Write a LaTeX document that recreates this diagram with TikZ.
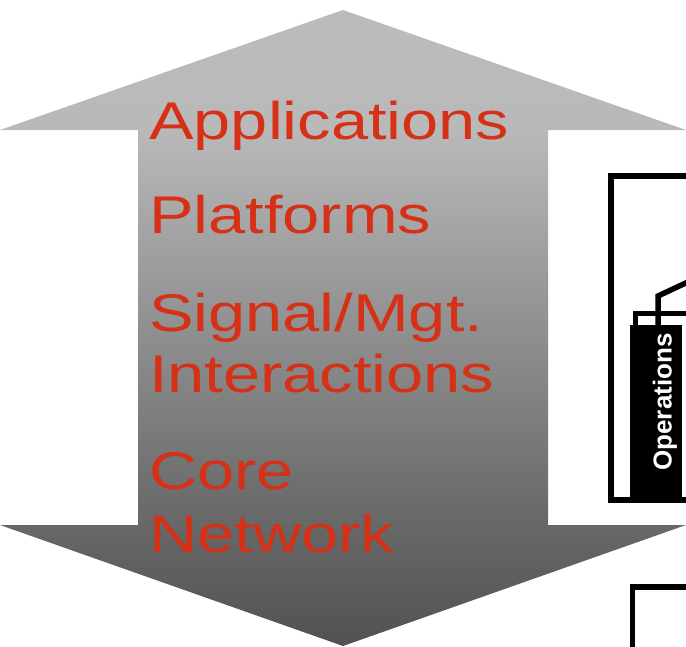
\documentclass[tikz,border=0pt]{standalone}
\usepackage{fontspec}
\newfontfamily\lblfont[FakeStretch=1.26]{Liberation Sans}
\newfontfamily\opsfont{Liberation Sans}
\definecolor{layerred}{RGB}{214,48,22}
% vertical grey ramp of the double arrow (path spans 25bp..75bp)
\pgfdeclareverticalshading{layerramp}{100bp}{%
  color(0bp)=(black!68);
  color(25bp)=(black!68);
  color(36.08bp)=(black!58);
  color(65.57bp)=(black!27.5);
  color(75bp)=(black!26.5);
  color(100bp)=(black!26.5)}
\begin{document}
\begin{tikzpicture}[x=1pt,y=-1pt,
  layer/.style={anchor=base west,inner sep=0pt,text=layerred,
    font=\lblfont\fontsize{53}{60}\selectfont},
  frame/.style={draw=black,line width=5.5pt,line join=miter},
  opsbox/.style={fill=black,draw=none}]
\useasboundingbox (0,0) rectangle (686,646);

% double-headed layer arrow
\shade[shading=layerramp]
  (343,10) -- (686,130) -- (548,130) -- (548,525) -- (686,525)
  -- (343,646) -- (0,525) -- (138,525) -- (138,130) -- (0,130) -- cycle;

% layer labels
\node[layer] (apps) at (149,139) {Applications};
\node[layer] (plat) at (149,233) {Platforms};
\node[layer] (sig)  at (149,331) {Signal/Mgt.};
\node[layer] (inter) at (149,392) {Interactions};
\node[layer] (core) at (149,489) {Core};
\node[layer] (net)  at (149,552) {Network};

% outer management frame (continues past the right edge)
\draw[frame] (700,176) -- (611,176) -- (611,500) -- (700,500);

% small housing above the operations block
\draw[frame] (700,313.5) -- (635.5,313.5) -- (635.5,330);
\draw[frame] (658,332) -- (658,296) -- (690,281);

% operations block
\fill[opsbox] (630,325) rectangle (682,500);
\node[rotate=90,text=white,inner sep=0pt,
  font=\opsfont\bfseries\fontsize{26}{29}\selectfont] (ops) at (665,402) {Operations};

% lower frame corner
\draw[frame] (700,587) -- (632.5,587) -- (632.5,660);
\end{tikzpicture}
\end{document}
